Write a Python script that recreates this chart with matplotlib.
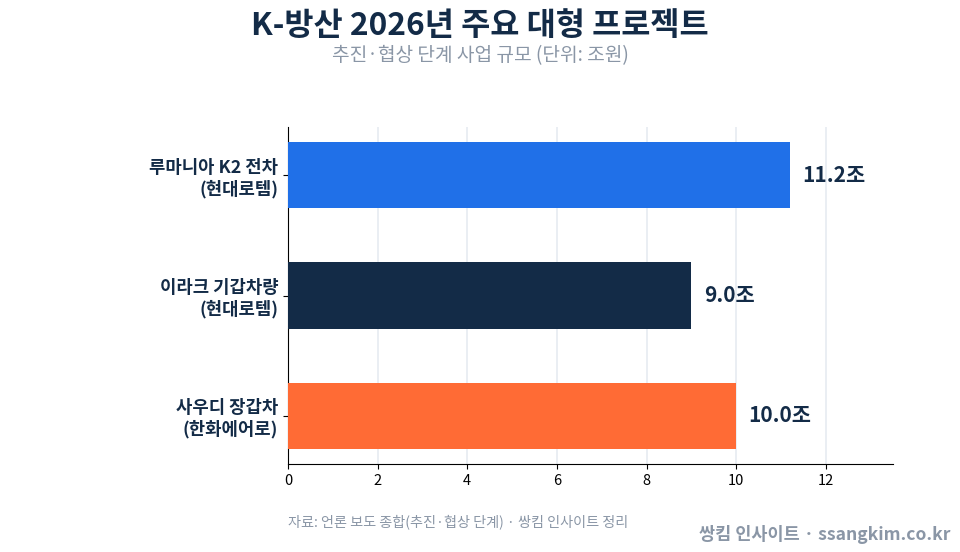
import matplotlib
matplotlib.use('Agg')
import matplotlib.pyplot as plt

plt.rcParams['font.family'] = ['Noto Sans CJK KR', 'DejaVu Sans']

labels = ['루마니아 K2 전차\n(현대로템)', '이라크 기갑차량\n(현대로템)', '사우디 장갑차\n(한화에어로)']
values = [11.2, 9.0, 10.0]
colors = ['#2070e8', '#132b47', '#ff6b35']
value_text = ['11.2조', '9.0조', '10.0조']

navy = '#132b47'

fig = plt.figure(figsize=(9.6, 5.52), dpi=100)
ax = fig.add_axes([288 / 960, 1 - 464 / 552, (893 - 288) / 960, (464 - 127) / 552])

pos = list(range(len(labels)))
ax.barh(pos, values, height=0.55, color=colors, zorder=3)
ax.invert_yaxis()
ax.set_xlim(0, 13.5)

for p, v, t in zip(pos, values, value_text):
    ax.text(v + 0.28, p, t, va='center', ha='left', fontsize=15, fontweight='bold', color=navy)

ax.set_yticks(pos)
ax.set_yticklabels(labels, fontsize=12.8, fontweight='bold', color=navy, linespacing=1.2)
ax.set_xticks(range(0, 13, 2))
ax.tick_params(axis='x', labelsize=10.5, colors='black')
ax.grid(axis='x', color='#e6ebf1', linewidth=1.2, zorder=0)
ax.spines['top'].set_visible(False)
ax.spines['right'].set_visible(False)

fig.text(0.5, 1 - 26 / 552, 'K-방산 2026년 주요 대형 프로젝트', ha='center', va='center',
         fontsize=22.8, fontweight='bold', color=navy)
fig.text(0.5, 1 - 56 / 552, '추진·협상 단계 사업 규모 (단위: 조원)', ha='center', va='center',
         fontsize=13.8, color='#8a96a6')
fig.text(288 / 960, 1 - 522 / 552, '자료: 언론 보도 종합(추진·협상 단계) · 쌍킴 인사이트 정리', ha='left', va='center',
         fontsize=10.2, color='#8a96a6')
fig.text(950 / 960, 1 - 535 / 552, '쌍킴 인사이트 · ssangkim.co.kr', ha='right', va='center',
         fontsize=12.6, fontweight='bold', color='#8a96a6')

fig.savefig('out.png', dpi=100)
